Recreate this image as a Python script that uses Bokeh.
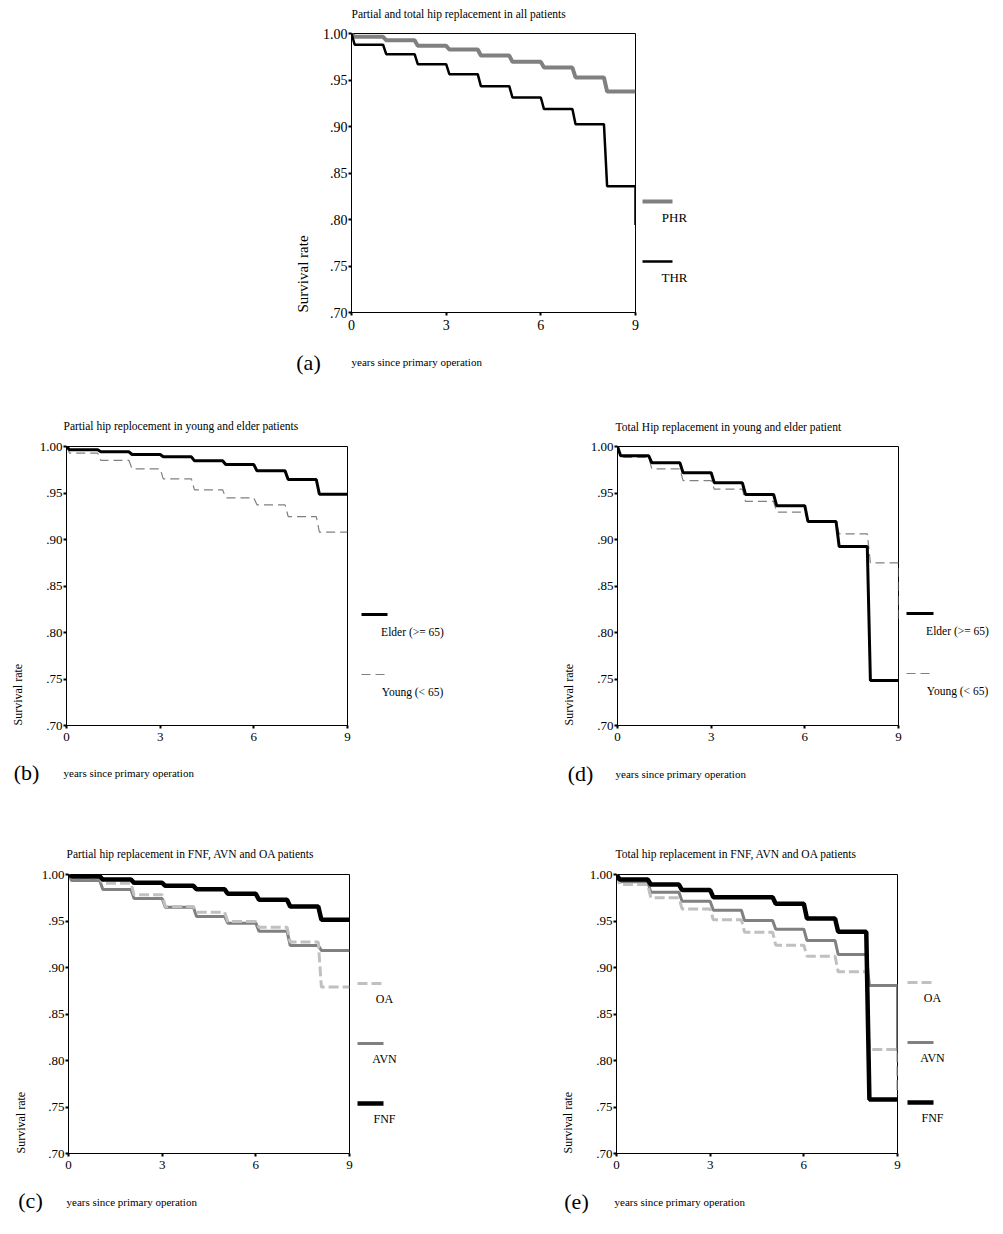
from bokeh.plotting import figure
from bokeh.models import Range1d, Label, Spacer, FixedTicker
from bokeh.layouts import column, row
from bokeh.embed import file_html
from bokeh.resources import INLINE
import math

# ---------------- data ----------------
FOLLOW_UP = 9
years = [0, 1, 2, 3, 4, 5, 6, 7, 8]
x_ticks = [0, 3, 6, 9]
y_ticks = [0.70, 0.75, 0.80, 0.85, 0.90, 0.95, 1.00]
y_tick_labels = [".70", ".75", ".80", ".85", ".90", ".95", "1.00"]

# (a) all patients
a_phr = [0.9964, 0.9928, 0.9867, 0.9828, 0.9763, 0.9695, 0.9634, 0.9527, 0.9376]
a_thr = [0.9880, 0.9778, 0.9670, 0.9563, 0.9434, 0.9312, 0.9187, 0.9025, 0.8358]
a_thr_end = 0.794

# (b) partial, young vs elder
b_elder = [0.9964, 0.9943, 0.9914, 0.9889, 0.9846, 0.9806, 0.9738, 0.9645, 0.9487]
b_young = [0.9928, 0.9850, 0.9760, 0.9652, 0.9534, 0.9448, 0.9373, 0.9247, 0.9079]

# (d) total, young vs elder
d_elder = [0.9900, 0.9824, 0.9717, 0.9609, 0.9484, 0.9362, 0.9194, 0.8925, 0.7484]
d_young = [0.9882, 0.9760, 0.9634, 0.9541, 0.9409, 0.9294, 0.9194, 0.9061, 0.8749]
d_young_end = 0.810

# (c) partial, FNF / AVN / OA
c_fnf = [0.9979, 0.9946, 0.9910, 0.9878, 0.9842, 0.9792, 0.9728, 0.9656, 0.9513]
c_avn = [0.9936, 0.9839, 0.9742, 0.9649, 0.9549, 0.9477, 0.9391, 0.9237, 0.9184]
c_oa = [0.9964, 0.9907, 0.9782, 0.9656, 0.9595, 0.9495, 0.9434, 0.9273, 0.8790]

# (e) total, FNF / AVN / OA
e_fnf = [0.9946, 0.9892, 0.9832, 0.9756, 0.9756, 0.9685, 0.9527, 0.9384, 0.7580]
e_avn = [0.9921, 0.9810, 0.9713, 0.9616, 0.9505, 0.9412, 0.9290, 0.9140, 0.8806]
e_avn_end = 0.810
e_oa = [0.9892, 0.9750, 0.9630, 0.9513, 0.9380, 0.9240, 0.9122, 0.8953, 0.8118]
e_oa_end = 0.763

titles = {
    "a": "Partial and total hip replacement in all patients",
    "b": "Partial hip replocement in young and elder patients",
    "d": "Total Hip replacement in young and elder patient",
    "c": "Partial hip replacement in FNF, AVN and OA patients",
    "e": "Total hip replacement in FNF, AVN and OA patients",
}
keys_a = ["PHR", "THR"]
keys_age = ["Elder (>= 65)", "Young (< 65)"]
keys_dx = ["OA", "AVN", "FNF"]
x_label = "years since primary operation"
y_label = "Survival rate"

FONT = "Liberation Serif"
GRAY = "#808080"
LIGHT = "#c0c0c0"
YMIN, YMAX = 0.70, 1.00

STYLE = {
    "PHR": dict(line_color=GRAY, line_width=4),
    "THR": dict(line_color="black", line_width=2.5),
    "Elder (>= 65)": dict(line_color="black", line_width=3),
    "Young (< 65)": dict(line_color=GRAY, line_width=1.2, line_dash="9 5"),
    "FNF": dict(line_color="black", line_width=4.5),
    "AVN": dict(line_color=GRAY, line_width=3),
    "OA": dict(line_color=LIGHT, line_width=3, line_dash="10 4"),
}


def steps(vals, end=None, w=0.1):
    xs, ys = [years[0]], [1.0]
    prev = 1.0
    for t, v in zip(years, vals):
        xs += [t, t + w]
        ys += [prev, v]
        prev = v
    xs.append(FOLLOW_UP)
    ys.append(prev)
    if end is not None:
        xs.append(FOLLOW_UP)
        ys.append(end)
    return xs, ys


FRAME = {}


def panel(ml, fw, mr, mt, fh, mb, tick_size):
    p = figure(width=ml + fw + mr, height=mt + fh + mb,
               x_range=Range1d(0, FOLLOW_UP), y_range=Range1d(YMIN, YMAX),
               output_backend="svg", toolbar_location=None,
               min_border_left=ml, min_border_right=mr,
               min_border_top=mt, min_border_bottom=mb)
    p.title.visible = False
    p.grid.visible = False
    p.background_fill_color = "white"
    p.border_fill_color = "white"
    p.outline_line_color = "black"
    p.outline_line_width = 1
    p.outline_line_alpha = 1.0
    p.xaxis.ticker = FixedTicker(ticks=x_ticks)
    p.yaxis.ticker = FixedTicker(ticks=y_ticks)
    p.yaxis.major_label_overrides = {t: l for t, l in zip(y_ticks, y_tick_labels)}
    for ax in (p.xaxis, p.yaxis):
        ax.axis_line_color = "black"
        ax.major_tick_line_color = "black"
        ax.major_tick_line_width = 2
        ax.major_tick_in = 0
        ax.major_tick_out = 3
        ax.minor_tick_line_color = None
        ax.major_label_text_font = FONT
        ax.major_label_text_font_size = tick_size
        ax.major_label_text_color = "black"
    p.xaxis.major_label_standoff = 4
    p.yaxis.major_label_standoff = 1
    FRAME[p.id] = (fw, fh, mt, mb)
    return p


def text(p, px, py, s, size, place, align="left", angle=0.0):
    fw, fh = FRAME[p.id][:2]
    x = px / fw * FOLLOW_UP
    y = YMAX - py / fh * (YMAX - YMIN)
    p.add_layout(Label(x=x, y=y, text=s, text_font=FONT, text_font_size=size,
                       text_align=align, text_baseline="middle", angle=angle,
                       text_color="black"), place)


def decorate(p, key, tpx, tpy, xlpx, xlpy, lpx, lpy, ypx, xl_size, yl_size):
    fh = FRAME[p.id][1]
    text(p, tpx, tpy, titles[key], "11.5px", "above")
    text(p, xlpx, xlpy, x_label, xl_size, "below")
    text(p, lpx, lpy, "(" + key + ")", "22px", "below", align="center")
    text(p, ypx, fh, y_label, yl_size, "left", angle=math.pi / 2)


def draw(p, vals, key, end=None):
    xs, ys = steps(vals, end)
    p.line(xs, ys, **STYLE[key])


def key_fig(main, w, names, x0, x1, y_first, step, text_cx, text_dy, size):
    """Legend column beside a panel; data units = pixels of the row."""
    fw, fh, mt, mb = FRAME[main.id]
    lf = figure(width=w, height=mt + fh + mb,
                x_range=Range1d(0, w), y_range=Range1d(mt + fh, mt),
                min_border_left=0, min_border_right=0,
                min_border_top=mt, min_border_bottom=mb,
                x_axis_type=None, y_axis_type=None,
                output_backend="svg", toolbar_location=None)
    lf.title.visible = False
    lf.grid.visible = False
    lf.outline_line_color = None
    lf.background_fill_color = "white"
    lf.border_fill_color = "white"
    for i, nm in enumerate(names):
        y = y_first + i * step
        lf.line([x0, x1], [y, y], **STYLE[nm])
        lf.add_layout(Label(x=text_cx, y=y + text_dy, text=nm,
                            text_font=FONT, text_font_size=size,
                            text_align="center", text_baseline="middle",
                            text_color="black"))
    return lf


# ---------------- (a) ----------------
pa = panel(63, 284, 5, 33, 279, 78, "14px")
draw(pa, a_phr, "PHR")
draw(pa, a_thr, "THR", a_thr_end)
decorate(pa, "a", 0, -20, 0, 328, -43, 329, -49, "11px", "15px")
ka = key_fig(pa, 80, keys_a, 2, 32, 201, 60, 34, 16, "13px")

# ---------------- (b) ----------------
pb = panel(66, 281, 5, 56, 279, 95, "13px")
draw(pb, b_young, "Young (< 65)")
draw(pb, b_elder, "Elder (>= 65)")
decorate(pb, "b", -3, -21, -3, 326, -40, 326, -49, "11px", "12px")
kb = key_fig(pb, 206, keys_age, 9, 35, 224, 60, 60, 17, "11.5px")

# ---------------- (d) ----------------
pd_ = panel(59, 281, 5, 56, 279, 95, "13px")
draw(pd_, d_young, "Young (< 65)", d_young_end)
draw(pd_, d_elder, "Elder (>= 65)")
decorate(pd_, "d", -2, -20, -2, 327, -37, 327, -49, "11px", "12px")
kd = key_fig(pd_, 95, keys_age, 3, 30, 223, 60, 54, 17, "11.5px")

# ---------------- (c) ----------------
pc = panel(68, 281, 5, 54, 279, 77, "13px")
draw(pc, c_avn, "AVN")
draw(pc, c_oa, "OA")
draw(pc, c_fnf, "FNF")
decorate(pc, "c", -2, -21, -2, 327, -38, 326, -48, "11px", "12px")
kc = key_fig(pc, 204, keys_dx, 3, 29, 163, 60, 30, 15, "12px")

# ---------------- (e) ----------------
pe = panel(58, 281, 5, 54, 279, 77, "13px")
draw(pe, e_avn, "AVN", e_avn_end)
draw(pe, e_oa, "OA", e_oa_end)
draw(pe, e_fnf, "FNF")
decorate(pe, "e", -1, -21, -2, 327, -40, 327, -49, "11px", "12px")
ke = key_fig(pe, 96, keys_dx, 5, 31, 162, 60, 30, 15, "12px")

layout = column(
    row(Spacer(width=288, height=390), pa, ka),
    row(pb, kb, pd_, kd),
    row(pc, kc, pe, ke),
)

open("out.html", "w").write(file_html(layout, INLINE))
